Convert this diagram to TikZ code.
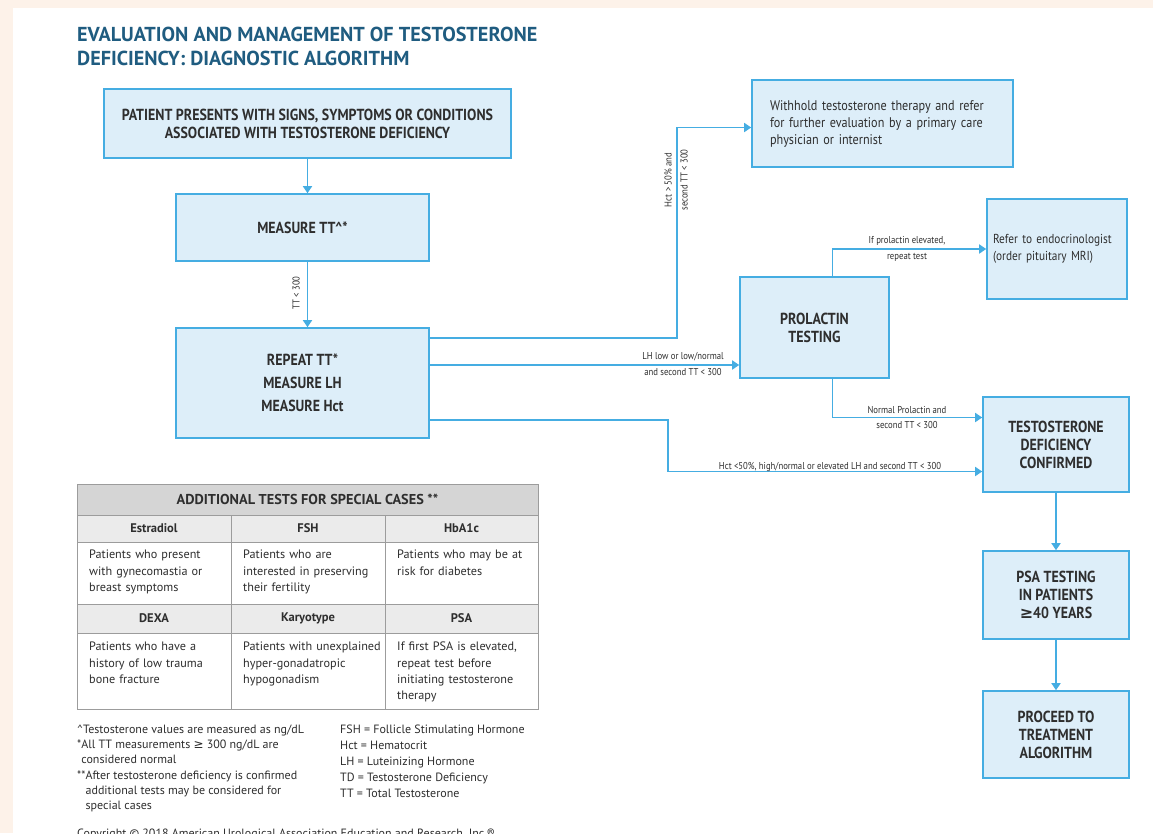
\documentclass[tikz,border=0pt]{standalone}
\usepackage{fontspec}
\setmainfont{PT Sans}
\newfontfamily\condfont[FakeStretch=0.87]{PT Sans}
\newfontfamily\symfont{DejaVu Sans}
\usepackage{xcolor}
\usetikzlibrary{arrows.meta,positioning,calc}

\definecolor{peach}{HTML}{FDF2E9}
\definecolor{skyline}{HTML}{45ADE2}
\definecolor{boxfill}{HTML}{DDEEF9}
\definecolor{titleblue}{HTML}{1F5C80}
\definecolor{inkgray}{HTML}{2E2E2E}
\definecolor{hdrgray}{HTML}{D5D5D5}
\definecolor{subgray}{HTML}{EBEBEB}
\definecolor{rulegray}{HTML}{9C9C9C}

\begin{document}
\begin{tikzpicture}[x=1pt,y=-1pt,
    box/.style={draw=skyline, fill=boxfill, line width=1.6pt, text=inkgray, align=center, inner sep=0pt,
        font=\condfont\bfseries\fontsize{16}{18}\selectfont},
    notebox/.style={draw=skyline, fill=boxfill, line width=1.6pt, text=inkgray, align=left, inner sep=0pt,
        font=\condfont\fontsize{14}{17}\selectfont},
    flow/.style={draw=skyline, line width=1.6pt, -{Triangle[length=7pt,width=9pt]}},
    cond/.style={text=inkgray, inner sep=0pt, align=center, font=\condfont\fontsize{10}{11}\selectfont},
    tablerule/.style={draw=rulegray, line width=0.8pt},
    cellhead/.style={text=inkgray, inner sep=0pt, font=\bfseries\fontsize{12.5}{14}\selectfont},
    celltext/.style={text=inkgray, inner sep=0pt, anchor=north west, align=left, text width=145pt,
        font=\fontsize{12.2}{16.3}\selectfont},
    footnote/.style={text=inkgray, inner sep=0pt, anchor=north west, align=left}]

    \useasboundingbox (0,0) rectangle (1153,833);
    \fill[peach] (0,0) rectangle (1153,833);
    \fill[white] (13,8) rectangle (1153,833);

    % title
    \node[anchor=north west, inner sep=0pt, align=left, text=titleblue,
        font=\bfseries\fontsize{20.2}{24}\selectfont] (title) at (77,27)
        {EVALUATION AND MANAGEMENT OF TESTOSTERONE\\DEFICIENCY: DIAGNOSTIC ALGORITHM};

    % flow boxes
    \node[box, minimum width=407pt, minimum height=69pt] (patient) at (307.5,123.5)
        {PATIENT PRESENTS WITH SIGNS, SYMPTOMS OR CONDITIONS\\ASSOCIATED WITH TESTOSTERONE DEFICIENCY};
    \node[box, minimum width=253pt, minimum height=67pt] (measure) at (302.5,227.5)
        {MEASURE TT\textasciicircum*};
    \node[box, minimum width=253pt, minimum height=110pt] (repeat) at (302.5,383)
        {REPEAT TT*\\[5pt]MEASURE LH\\[5pt]MEASURE Hct};
    \node[notebox, minimum width=261pt, minimum height=87pt, text width=225pt] (withhold) at (882.5,123.5)
        {Withhold testosterone therapy and refer\\for further evaluation by a primary care\\physician or internist};
    \node[notebox, minimum width=140pt, minimum height=100pt, text width=128pt,
        font=\condfont\fontsize{13}{17}\selectfont] (refer) at (1057,249)
        {Refer to endocrinologist\\(order pituitary MRI)};
    \node[box, minimum width=149pt, minimum height=101pt] (prolactin) at (814.5,327.5)
        {PROLACTIN\\TESTING};
    \node[box, minimum width=146pt, minimum height=95pt] (tdc) at (1056,444.5)
        {TESTOSTERONE\\DEFICIENCY\\CONFIRMED};
    \node[box, minimum width=146pt, minimum height=88pt] (psa) at (1056,595)
        {PSA TESTING\\IN PATIENTS\\{\symfont ≥}40 YEARS};
    \node[box, minimum width=146pt, minimum height=87pt] (proceed) at (1056,734.5)
        {PROCEED TO\\TREATMENT\\ALGORITHM};

    % connectors
    \draw[flow] (patient.south) -- (patient.south |- measure.north);
    \draw[flow] (patient.south |- measure.south) -- (patient.south |- repeat.north);
    \draw[flow] ([yshift=45pt]repeat.east) -- ++(247,0) |- ([yshift=-4pt]withhold.west);
    \draw[flow] ([yshift=18pt]repeat.east) -- ([yshift=18pt]repeat.east -| prolactin.west);
    \draw[flow] ([yshift=-37pt]repeat.east) -- ++(238,0) |- ([yshift=-27pt]tdc.west);
    \draw[flow] ([xshift=18pt]prolactin.north) |- (refer.west);
    \draw[flow] ([xshift=18pt]prolactin.south) |- ([yshift=27pt]tdc.west);
    \draw[flow] (tdc.south) -- (psa.north);
    \draw[flow] (psa.south) -- (proceed.north);

    % connector labels
    \node[cond, rotate=90] (ttlow) at (296,293) {TT < 300};
    \node[cond, rotate=90] (hcthigh) at (676,180) {Hct > 50\% and\\[5pt]second TT < 300};
    \node[cond] (lhlow) at (683,364) {LH low or low/normal\\[5pt]and second TT < 300};
    \node[cond, anchor=base] (hctlow) at (830,469) {Hct <50\%, high/normal or elevated LH and second TT < 300};
    \node[cond] (prlhigh) at (907,249) {If prolactin elevated,\\[5pt]repeat test};
    \node[cond] (prlnorm) at (907,417) {Normal Prolactin and\\[4pt]second TT < 300};

    % table of additional tests
    \fill[hdrgray] (77,484) rectangle (538,515);
    \fill[subgray] (77,515) rectangle (538,542);
    \fill[subgray] (77,604) rectangle (538,633);
    \draw[tablerule] (77,484) rectangle (538,709);
    \draw[tablerule] (77,515) -- (538,515) (77,542) -- (538,542) (77,604) -- (538,604) (77,633) -- (538,633);
    \draw[tablerule] (231,515) -- (231,709) (385,515) -- (385,709);
    \node[cellhead, font=\bfseries\fontsize{14.3}{16}\selectfont] (addtests) at (307.5,499.5) {ADDITIONAL TESTS FOR SPECIAL CASES **};
    \node[cellhead] (estradiol) at (154,528.5) {Estradiol};
    \node[cellhead] (fsh) at (308,528.5) {FSH};
    \node[cellhead] (hba) at (461.5,528.5) {HbA1c};
    \node[cellhead] (dexa) at (154,618.5) {DEXA};
    \node[cellhead] (karyo) at (308,618.5) {Karyotype};
    \node[cellhead] (psahead) at (461.5,618.5) {PSA};
    \node[celltext] (estrtxt) at (89,550) {Patients who present\\with gynecomastia or\\breast symptoms};
    \node[celltext] (fshtxt) at (243,550) {Patients who are\\interested in preserving\\their fertility};
    \node[celltext] (hbatxt) at (397,550) {Patients who may be at\\risk for diabetes};
    \node[celltext] (dexatxt) at (89,642) {Patients who have a\\history of low trauma\\bone fracture};
    \node[celltext] (karyotxt) at (243,642) {Patients with unexplained\\hyper-gonadatropic\\hypogonadism};
    \node[celltext] (psatxt) at (397,642) {If first PSA is elevated,\\repeat test before\\initiating testosterone\\therapy};

    % footnotes
    \node[footnote, font=\fontsize{12}{15.1}\selectfont] (notes) at (77,725)
        {\textasciicircum Testosterone values are measured as ng/dL\\
         *All TT measurements {\symfont ≥} 300 ng/dL are\\
         \hphantom{*}considered normal\\
         **After testosterone deficiency is confirmed\\
         \hphantom{**}additional tests may be considered for\\
         \hphantom{**}special cases};
    \node[footnote, font=\fontsize{12}{16}\selectfont] (abbrev) at (340,725)
        {FSH = Follicle Stimulating Hormone\\
         Hct = Hematocrit\\
         LH = Luteinizing Hormone\\
         TD = Testosterone Deficiency\\
         TT = Total Testosterone};
    \node[anchor=base west, inner sep=0pt, text=inkgray, font=\fontsize{12}{13}\selectfont] (copyright) at (77,837)
        {Copyright © 2018 American Urological Association Education and Research, Inc.®};
\end{tikzpicture}
\end{document}
